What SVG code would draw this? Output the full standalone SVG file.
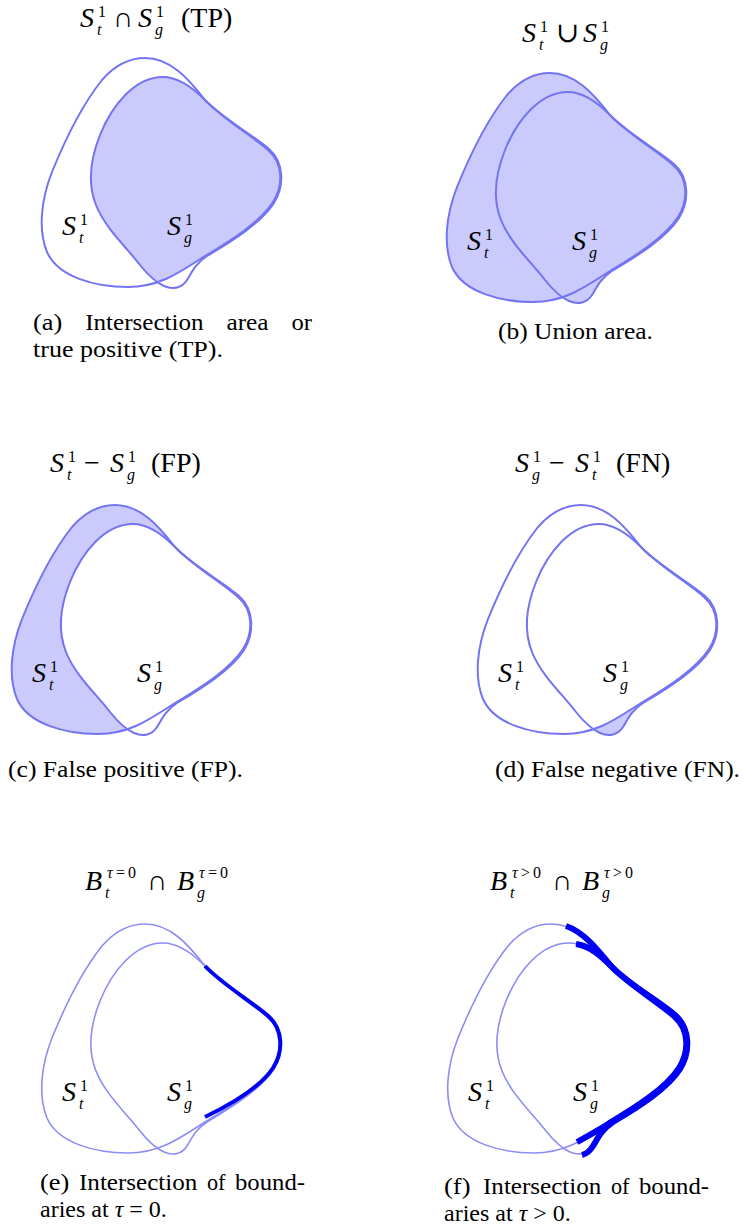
<svg xmlns="http://www.w3.org/2000/svg" xmlns:xlink="http://www.w3.org/1999/xlink" width="742" height="1230" viewBox="0 0 742 1230">
<style>
.m{font-family:"Liberation Serif","DejaVu Serif",serif;font-style:italic;font-size:28px;fill:#000}
.r{font-family:"Liberation Serif","DejaVu Serif",serif;font-size:28px;fill:#000}
.s{font-family:"Liberation Serif","DejaVu Serif",serif;font-size:16px;fill:#000}
.si{font-family:"Liberation Serif","DejaVu Serif",serif;font-style:italic;font-size:16px;fill:#000}
.cap{font-family:"Liberation Serif","DejaVu Serif",serif;font-size:24px;fill:#000}
.ln{fill:none;stroke:#7474f2;stroke-width:2}
.lt{fill:none;stroke:#8c8cf6;stroke-width:1.6}
.fl{fill:#cacafc;stroke:none}
.wh{fill:#fff;stroke:none}
.hl{fill:none;stroke:#0000f2;stroke-linecap:butt}
</style>
<defs>
<path id="st" d="M145,58 C170,58 188,78 205,100 C222,118 252,136 268,150 C284,164 283,186 273,202 C260,222 232,240 205,256 C180,272 160,287 128,287 C95,287 58,277 47,252 C38,230 41,200 52,172 C65,140 82,105 102,80 C115,65 128,58 145,58 Z"/>
<path id="sg" d="M163,77 C178,77 193,88 205,100 C222,118 253,135 269,149 C285,163 284,187 274,203 C262,222 234,240 207,256 C195,264 192,272 187,280 C182,288 173,290 164,286 C155,282 148,275 140,265 C127,248 105,228 96,205 C88,185 90,160 100,135 C112,105 135,77 163,77 Z"/>
<clipPath id="cst"><use xlink:href="#st"/></clipPath>
</defs>

<g id="panel-a">
<use xlink:href="#sg" class="fl" clip-path="url(#cst)"/>
<use xlink:href="#st" class="ln"/>
<use xlink:href="#sg" class="ln"/>
<g transform="translate(62,235)"><text class="m" x="0" y="0">S</text><text class="s" x="18" y="-10">1</text><text class="si" x="17" y="8">t</text></g>
<g transform="translate(167,235)"><text class="m" x="0" y="0">S</text><text class="s" x="18" y="-10">1</text><text class="si" x="17" y="8">g</text></g>
<g transform="translate(80,27)"><text class="m" x="0" y="0">S</text><text class="s" x="18" y="-10">1</text><text class="si" x="17" y="8">t</text><text class="r" x="33" y="0">∩</text><text class="m" x="58" y="0">S</text><text class="s" x="76" y="-10">1</text><text class="si" x="75" y="8">g</text><text class="r" x="101" y="0">(TP)</text></g>
<text class="cap" x="33" y="330" textLength="29.4" lengthAdjust="spacingAndGlyphs">(a)</text>
<text class="cap" x="85.2" y="330" textLength="118.4" lengthAdjust="spacingAndGlyphs">Intersection</text>
<text class="cap" x="226.4" y="330" textLength="42.2" lengthAdjust="spacingAndGlyphs">area</text>
<text class="cap" x="291.5" y="330" textLength="20.5" lengthAdjust="spacingAndGlyphs">or</text>
<text class="cap" x="33" y="357" textLength="190" lengthAdjust="spacingAndGlyphs">true positive (TP).</text>
</g>

<g id="panel-b">
<g transform="translate(405,15)">
<use xlink:href="#st" class="fl"/>
<use xlink:href="#sg" class="fl"/>
<use xlink:href="#st" class="ln"/>
<use xlink:href="#sg" class="ln"/>
<g transform="translate(62,235)"><text class="m" x="0" y="0">S</text><text class="s" x="18" y="-10">1</text><text class="si" x="17" y="8">t</text></g>
<g transform="translate(167,235)"><text class="m" x="0" y="0">S</text><text class="s" x="18" y="-10">1</text><text class="si" x="17" y="8">g</text></g>
</g>
<g transform="translate(522,42)"><text class="m" x="0" y="0">S</text><text class="s" x="18" y="-10">1</text><text class="si" x="17" y="8">t</text><text class="r" x="34" y="0">∪</text><text class="m" x="61" y="0">S</text><text class="s" x="79" y="-10">1</text><text class="si" x="78" y="8">g</text></g>
<text class="cap" x="498" y="339" textLength="155" lengthAdjust="spacingAndGlyphs">(b) Union area.</text>
</g>

<g id="panel-c">
<g transform="translate(-30,447)">
<use xlink:href="#st" class="fl"/>
<use xlink:href="#sg" class="wh"/>
<use xlink:href="#st" class="ln"/>
<use xlink:href="#sg" class="ln"/>
<g transform="translate(62,235)"><text class="m" x="0" y="0">S</text><text class="s" x="18" y="-10">1</text><text class="si" x="17" y="8">t</text></g>
<g transform="translate(167,235)"><text class="m" x="0" y="0">S</text><text class="s" x="18" y="-10">1</text><text class="si" x="17" y="8">g</text></g>
</g>
<g transform="translate(50,472)"><text class="m" x="0" y="0">S</text><text class="s" x="18" y="-10">1</text><text class="si" x="17" y="8">t</text><text class="r" x="34" y="0">−</text><text class="m" x="60" y="0">S</text><text class="s" x="78" y="-10">1</text><text class="si" x="77" y="8">g</text><text class="r" x="101" y="0">(FP)</text></g>
<text class="cap" x="8" y="777" textLength="235" lengthAdjust="spacingAndGlyphs">(c) False positive (FP).</text>
</g>

<g id="panel-d">
<g transform="translate(436,447)">
<use xlink:href="#sg" class="fl"/>
<use xlink:href="#st" class="wh"/>
<use xlink:href="#st" class="ln"/>
<use xlink:href="#sg" class="ln"/>
<g transform="translate(62,235)"><text class="m" x="0" y="0">S</text><text class="s" x="18" y="-10">1</text><text class="si" x="17" y="8">t</text></g>
<g transform="translate(167,235)"><text class="m" x="0" y="0">S</text><text class="s" x="18" y="-10">1</text><text class="si" x="17" y="8">g</text></g>
</g>
<g transform="translate(515,472)"><text class="m" x="0" y="0">S</text><text class="s" x="18" y="-10">1</text><text class="si" x="17" y="8">g</text><text class="r" x="34" y="0">−</text><text class="m" x="60" y="0">S</text><text class="s" x="78" y="-10">1</text><text class="si" x="77" y="8">t</text><text class="r" x="101" y="0">(FN)</text></g>
<text class="cap" x="495" y="777" textLength="245" lengthAdjust="spacingAndGlyphs">(d) False negative (FN).</text>
</g>

<g id="panel-e">
<g transform="translate(0,866)">
<use xlink:href="#st" class="lt"/>
<use xlink:href="#sg" class="lt"/>
<path class="hl" stroke-width="4" d="M205,100 C222,118 252,136 268,150 C284,164 283,186 273,202 C261,220 236,236 205,251"/>
<g transform="translate(62,235)"><text class="m" x="0" y="0">S</text><text class="s" x="18" y="-10">1</text><text class="si" x="17" y="8">t</text></g>
<g transform="translate(167,235)"><text class="m" x="0" y="0">S</text><text class="s" x="18" y="-10">1</text><text class="si" x="17" y="8">g</text></g>
</g>
<g transform="translate(85,890)"><text class="m" x="0" y="0">B</text><text class="si" x="22" y="-12">τ</text><text class="s" x="31" y="-12">=</text><text class="s" x="43" y="-12">0</text><text class="si" x="20" y="8">t</text><text class="r" x="62" y="0">∩</text><text class="m" x="92" y="0">B</text><text class="si" x="114" y="-12">τ</text><text class="s" x="123" y="-12">=</text><text class="s" x="135" y="-12">0</text><text class="si" x="112" y="8">g</text></g>
<text class="cap" x="40" y="1190" textLength="29.4" lengthAdjust="spacingAndGlyphs">(e)</text>
<text class="cap" x="79" y="1190" textLength="118.4" lengthAdjust="spacingAndGlyphs">Intersection</text>
<text class="cap" x="207" y="1190" textLength="18.5" lengthAdjust="spacingAndGlyphs">of</text>
<text class="cap" x="235" y="1190" textLength="70" lengthAdjust="spacingAndGlyphs">bound-</text>
<text class="cap" x="40" y="1217">aries at <tspan font-style="italic">τ</tspan> = 0.</text>
</g>

<g id="panel-f">
<g transform="translate(406,866)">
<use xlink:href="#st" class="lt"/>
<use xlink:href="#sg" class="lt"/>
<path class="hl" stroke-width="6" d="M160,60 C178,66 192,84 205,100 C222,118 252,136 268,150 C284,164 283,186 273,202 C260,222 232,240 205,256 C195,263 182,270 171,276"/>
<path class="hl" stroke-width="6" d="M170,78 C184,80 195,90 205,100 C222,118 253,135 269,149 C285,163 284,187 274,203 C262,222 234,240 207,256 C195,264 192,272 187,280 C184,285 180,288 176,289"/>
<g transform="translate(62,235)"><text class="m" x="0" y="0">S</text><text class="s" x="18" y="-10">1</text><text class="si" x="17" y="8">t</text></g>
<g transform="translate(167,235)"><text class="m" x="0" y="0">S</text><text class="s" x="18" y="-10">1</text><text class="si" x="17" y="8">g</text></g>
</g>
<g transform="translate(490,890)"><text class="m" x="0" y="0">B</text><text class="si" x="22" y="-12">τ</text><text class="s" x="31" y="-12">&gt;</text><text class="s" x="43" y="-12">0</text><text class="si" x="20" y="8">t</text><text class="r" x="62" y="0">∩</text><text class="m" x="92" y="0">B</text><text class="si" x="114" y="-12">τ</text><text class="s" x="123" y="-12">&gt;</text><text class="s" x="135" y="-12">0</text><text class="si" x="112" y="8">g</text></g>
<text class="cap" x="444" y="1194" textLength="26.5" lengthAdjust="spacingAndGlyphs">(f)</text>
<text class="cap" x="483" y="1194" textLength="118.4" lengthAdjust="spacingAndGlyphs">Intersection</text>
<text class="cap" x="611" y="1194" textLength="18.5" lengthAdjust="spacingAndGlyphs">of</text>
<text class="cap" x="639" y="1194" textLength="70" lengthAdjust="spacingAndGlyphs">bound-</text>
<text class="cap" x="444" y="1221">aries at <tspan font-style="italic">τ</tspan> &gt; 0.</text>
</g>
</svg>
